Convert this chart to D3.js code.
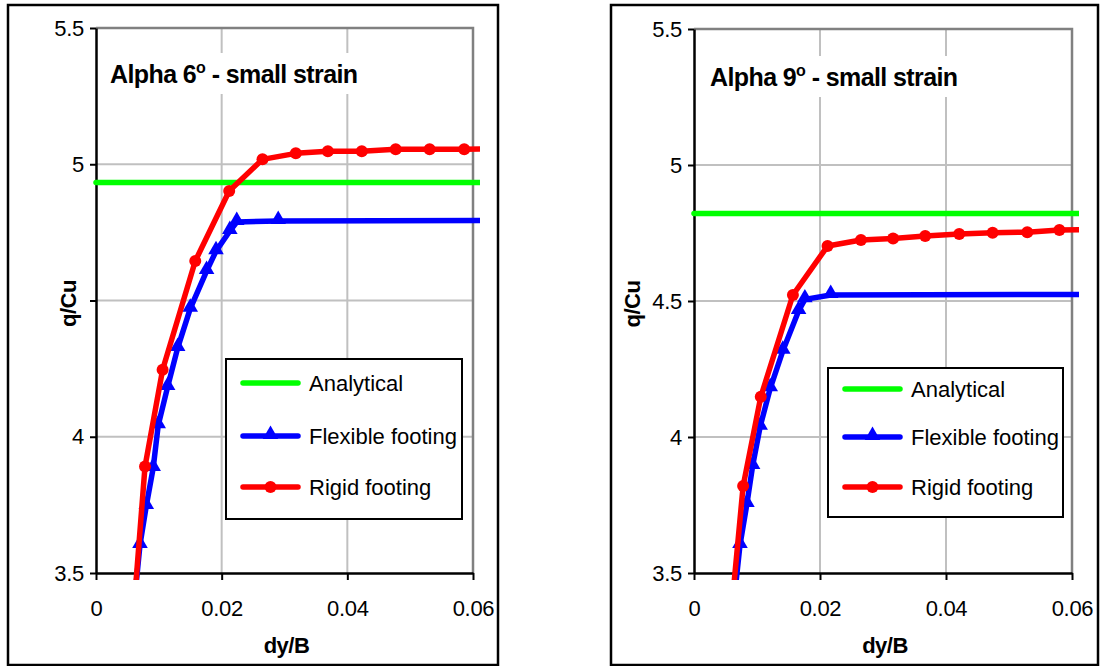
<!DOCTYPE html>
<html>
<head>
<meta charset="utf-8">
<script src="https://cdn.jsdelivr.net/npm/d3@7"></script>
<style>
  body { margin: 0; background: #fff; }
  svg { display: block; font-family: "Liberation Sans", Arial, sans-serif; }
</style>
</head>
<body>
<svg id="chart" width="1100" height="666"></svg>
<script>
const xTicks = [0, 0.02, 0.04, 0.06];
const yTicks = [3.5, 4, 4.5, 5, 5.5];
const xTickLabels = ["0", "0.02", "0.04", "0.06"];
const yTickLabels = ["3.5", "4", "4.5", "5", "5.5"];
const legendLabels = ["Analytical", "Flexible footing", "Rigid footing"];
const titles = ["6", "9"];

// alpha 6 degrees
const analytical6 = [[0, 4.933], [0.07, 4.933]];
const flexible6 = [[0.0057, 3.30], [0.0070, 3.603], [0.0080, 3.746], [0.0091, 3.885], [0.0099, 4.042],
  [0.0114, 4.183], [0.0130, 4.326], [0.0150, 4.470], [0.0176, 4.608], [0.0191, 4.681],
  [0.0213, 4.755], [0.0224, 4.788], [0.0290, 4.792], [0.08, 4.795]];
const rigid6 = [[0.0058, 3.30], [0.0078, 3.891], [0.0106, 4.246], [0.0158, 4.645], [0.0212, 4.902],
  [0.0265, 5.018], [0.0318, 5.040], [0.0369, 5.048], [0.0423, 5.048], [0.0477, 5.055],
  [0.0531, 5.055], [0.0586, 5.055], [0.0640, 5.057]];

// alpha 9 degrees
const analytical9 = [[0, 4.822], [0.07, 4.822]];
const flexible9 = [[0.0059, 3.30], [0.0073, 3.603], [0.0084, 3.754], [0.0093, 3.893], [0.0105, 4.038],
  [0.0121, 4.179], [0.0141, 4.317], [0.0166, 4.463], [0.0176, 4.506], [0.0217, 4.522], [0.08, 4.525]];
const rigid9 = [[0.0057, 3.30], [0.0078, 3.820], [0.0106, 4.148], [0.0157, 4.522], [0.0212, 4.702],
  [0.0265, 4.724], [0.0316, 4.730], [0.0367, 4.739], [0.0421, 4.746], [0.0474, 4.751],
  [0.0529, 4.753], [0.0580, 4.761], [0.0633, 4.763]];

const charts = [
  { outer: [8, 5, 490, 660], plot: { l: 96, t: 28, r: 473, b: 573 }, title: titles[0], tx: 110, ty: 83, qx: 69,
    legend: { x: 226, y: 359, w: 236, h: 160, rows: [383, 436, 487] },
    series: [analytical6, flexible6, rigid6] },
  { outer: [611, 5, 487, 660], plot: { l: 694, t: 29, r: 1072, b: 573 }, title: titles[1], tx: 710, ty: 86, qx: 633,
    legend: { x: 828, y: 368, w: 235, h: 149, rows: [389, 437, 487] },
    series: [analytical9, flexible9, rigid9] }
];

const colors = ["#00ff00", "#0000ff", "#ff0000"];
const triangle = d3.symbol().type(d3.symbolTriangle).size(105);

const svg = d3.select("#chart");

function marker(sel, k) {
  if (k === 1) sel.append("path").attr("d", triangle).attr("fill", colors[1]).attr("transform", "translate(0,-1.5)");
  if (k === 2) sel.append("circle").attr("r", 6).attr("fill", colors[2]);
}

charts.forEach((c, ci) => {
  const g = svg.append("g");
  const p = c.plot;
  const x = d3.scaleLinear().domain([0, 0.06]).range([p.l, p.r]);
  const y = d3.scaleLinear().domain([3.5, 5.5]).range([p.b, p.t]);

  g.append("rect").attr("x", c.outer[0]).attr("y", c.outer[1]).attr("width", c.outer[2]).attr("height", c.outer[3])
    .attr("fill", "none").attr("stroke", "#000").attr("stroke-width", 2.5);

  // grid
  g.selectAll(".vg").data(xTicks.slice(1, -1)).join("line")
    .attr("x1", d => x(d)).attr("x2", d => x(d)).attr("y1", p.t).attr("y2", p.b)
    .attr("stroke", "#c0c0c0").attr("stroke-width", 2);
  g.selectAll(".hg").data(yTicks.slice(1, -1)).join("line")
    .attr("x1", p.l).attr("x2", p.r).attr("y1", d => y(d)).attr("y2", d => y(d))
    .attr("stroke", "#c0c0c0").attr("stroke-width", 2);
  g.append("path").attr("d", `M${p.l},${p.t}H${p.r}V${p.b}`)
    .attr("fill", "none").attr("stroke", "#808080").attr("stroke-width", 2.5);

  // title with white backing
  const tg = g.append("g");
  const tt = tg.append("text").attr("x", c.tx).attr("y", c.ty)
    .attr("font-size", 25).attr("font-weight", "bold").attr("letter-spacing", -0.6);
  tt.append("tspan").text("Alpha " + c.title);
  tt.append("tspan").attr("font-size", 16).attr("dy", -10).text("o");
  tt.append("tspan").attr("dy", 10).text(" - small strain");
  const bb = tt.node().getBBox();
  tg.insert("rect", "text").attr("x", bb.x - 3).attr("y", bb.y - 6).attr("width", bb.width + 6).attr("height", bb.height + 12)
    .attr("fill", "#fff");

  // axes
  const ya = g.append("g").attr("transform", `translate(${p.l},0)`)
    .call(d3.axisLeft(y).tickValues(yTicks).tickFormat((d, i) => yTickLabels[i]).tickSize(6).tickSizeOuter(0).tickPadding(6));
  const xa = g.append("g").attr("transform", `translate(0,${p.b})`)
    .call(d3.axisBottom(x).tickValues(xTicks).tickFormat((d, i) => xTickLabels[i]).tickSize(7).tickSizeOuter(0).tickPadding(20));
  [ya, xa].forEach(a => {
    a.select(".domain").attr("stroke", "#000").attr("stroke-width", 2.5);
    a.selectAll(".tick line").attr("stroke", "#000").attr("stroke-width", 2);
    a.selectAll(".tick text").attr("font-size", 22).attr("fill", "#000").attr("letter-spacing", -0.3)
      .style("font-family", "'Liberation Sans', Arial, sans-serif");
  });

  // axis titles; the y title sits on a white box that can hide a tick label, as in the source
  const midY = (p.t + p.b) / 2 + 3;
  const qg = g.append("g");
  const qt = qg.append("text").attr("transform", `translate(${c.qx + 7},${midY}) rotate(-90)`)
    .attr("text-anchor", "middle").attr("font-size", 22).attr("font-weight", "bold")
    .attr("letter-spacing", -0.5).text("q/Cu");
  const qLen = qt.node().getComputedTextLength();
  qg.insert("rect", "text").attr("x", c.qx - 18).attr("y", midY - qLen / 2 - 2).attr("width", 35).attr("height", qLen + 4)
    .attr("fill", "#fff");
  g.append("text").attr("x", (p.l + p.r) / 2 + 2).attr("y", 653)
    .attr("text-anchor", "middle").attr("font-size", 22).attr("font-weight", "bold").attr("letter-spacing", -0.5).text("dy/B");

  // series, clipped slightly past the plot area as in the source
  const clipId = "clip" + ci;
  g.append("clipPath").attr("id", clipId).append("rect")
    .attr("x", p.l - 4).attr("y", p.t - 4).attr("width", p.r - p.l + 11).attr("height", p.b - p.t + 11);
  const sg = g.append("g").attr("clip-path", `url(#${clipId})`);
  const line = d3.line().x(d => x(d[0])).y(d => y(d[1]));
  c.series.forEach((s, k) => {
    sg.append("path").datum(s).attr("d", line).attr("fill", "none").attr("stroke", colors[k])
      .attr("stroke-width", 5.5).attr("stroke-linejoin", "round").attr("stroke-linecap", "round");
    if (k > 0) {
      const inside = s.filter(d => d[0] <= 0.06 && d[1] >= 3.5);
      sg.selectAll(".m" + k).data(inside).join("g").attr("transform", d => `translate(${x(d[0])},${y(d[1])})`)
        .each(function () { marker(d3.select(this), k); });
    }
  });

  // legend
  const L = c.legend;
  const lg = g.append("g");
  lg.append("rect").attr("x", L.x).attr("y", L.y).attr("width", L.w).attr("height", L.h)
    .attr("fill", "#fff").attr("stroke", "#000").attr("stroke-width", 2);
  legendLabels.forEach((lab, k) => {
    const ry = L.rows[k];
    lg.append("line").attr("x1", L.x + 17).attr("x2", L.x + 72).attr("y1", ry).attr("y2", ry)
      .attr("stroke", colors[k]).attr("stroke-width", 5.5).attr("stroke-linecap", "round");
    const mg = lg.append("g").attr("transform", `translate(${L.x + 44.5},${ry})`);
    marker(mg, k);
    lg.append("text").attr("x", L.x + 83).attr("y", ry + 8).attr("font-size", 22).text(lab);
  });
});
</script>
</body>
</html>
